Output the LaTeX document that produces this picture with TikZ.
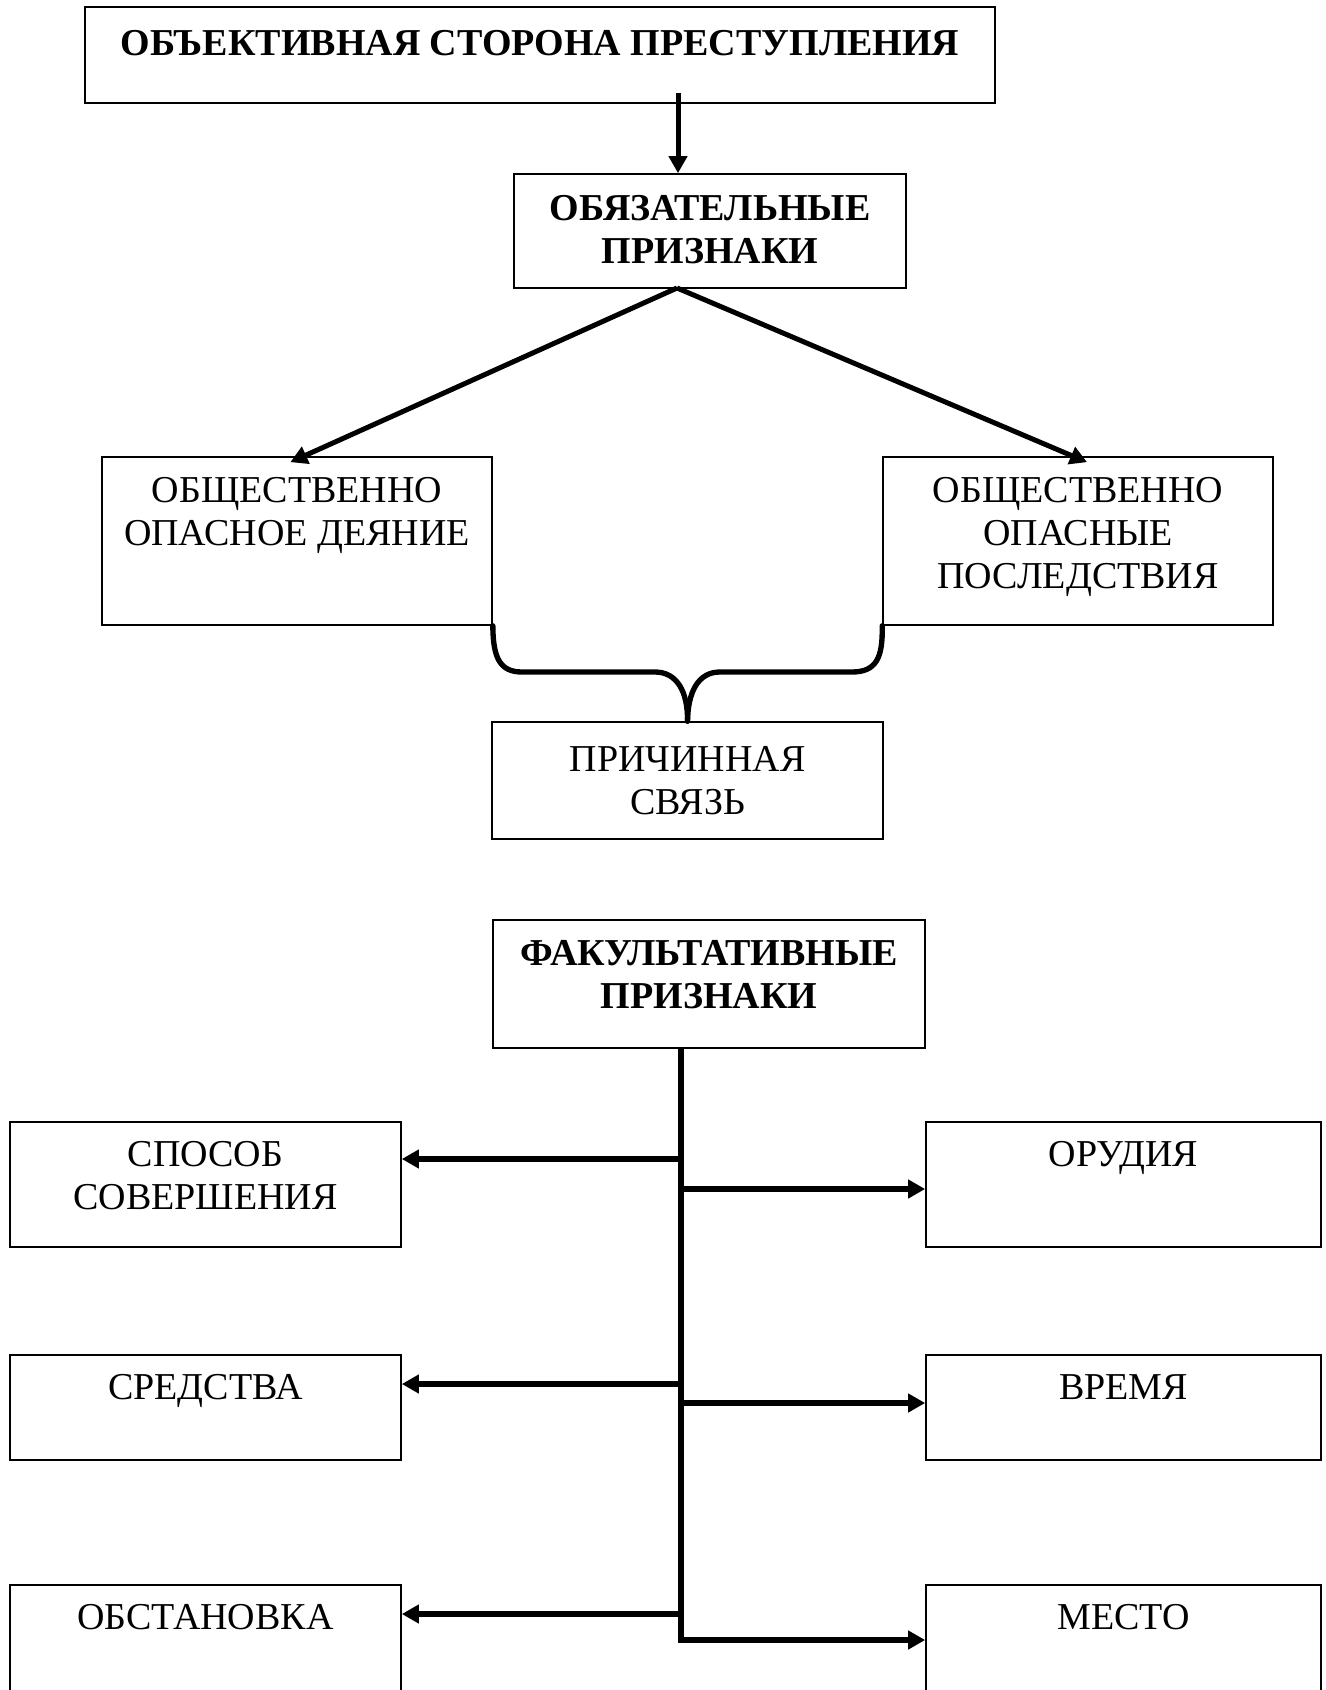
\documentclass[tikz,border=0pt]{standalone}
\usepackage{fontspec}
\setmainfont{Liberation Serif}
\usetikzlibrary{positioning,arrows.meta}

\tikzset{every picture/.style={line width=0.75pt}}
\tikzset{
	blk/.style={draw, line width=1.25pt, inner sep=0pt},
	txt/.style={inner sep=0pt, align=center, font=\fontsize{28.5}{32.25}\selectfont},
	btxt/.style={txt, font=\fontsize{28.5}{32.25}\selectfont\bfseries},
	arr/.style={line width=3.75pt, -{Triangle[length=12.75pt,width=13.5pt]}},
	arrb/.style={arr, line width=5pt},
	brace/.style={line width=4pt, line cap=round, line join=round},
}

\begin{document}
\begin{tikzpicture}[x=0.75pt,y=0.75pt,yscale=-1,xscale=1]
		\useasboundingbox (0,0) rectangle (1326,1690);
		\clip (0,0) rectangle (1326,1690);
		
		%Shape: Rectangle [id:storona] 
		\node[blk, minimum width=682.5pt, minimum height=72pt] (storona) at (540,55) {};
		%Shape: Rectangle [id:obyaz] 
		\node[blk, minimum width=294pt, minimum height=85.5pt] (obyaz) at (710,231) {};
		%Shape: Rectangle [id:deyanie] 
		\node[blk, minimum width=292.5pt, minimum height=126pt] (deyanie) at (297,541) {};
		%Shape: Rectangle [id:posl] 
		\node[blk, minimum width=292.5pt, minimum height=126pt] (posl) at (1078,541) {};
		%Shape: Rectangle [id:prichina] 
		\node[blk, minimum width=293.25pt, minimum height=87.75pt] (prichina) at (687.5,780.5) {};
		%Shape: Rectangle [id:fakult] 
		\node[blk, minimum width=324pt, minimum height=96pt] (fakult) at (709,984) {};
		%Shape: Rectangle [id:sposob] 
		\node[blk, minimum width=293.25pt, minimum height=93.75pt] (sposob) at (205.5,1184.5) {};
		%Shape: Rectangle [id:orudiya] 
		\node[blk, minimum width=296.25pt, minimum height=93.75pt] (orudiya) at (1123.5,1184.5) {};
		%Shape: Rectangle [id:sredstva] 
		\node[blk, minimum width=293.25pt, minimum height=78.75pt] (sredstva) at (205.5,1407.5) {};
		%Shape: Rectangle [id:vremya] 
		\node[blk, minimum width=296.25pt, minimum height=78.75pt] (vremya) at (1123.5,1407.5) {};
		%Shape: Rectangle [id:obstanovka] 
		\node[blk, minimum width=293.25pt, minimum height=101.25pt] (obstanovka) at (205.5,1652.5) {};
		%Shape: Rectangle [id:mesto] 
		\node[blk, minimum width=296.25pt, minimum height=101.25pt] (mesto) at (1123.5,1652.5) {};
		
		%Straight Lines [id:top] 
		\coordinate (s0) at (678,93);
		\draw[arr] (s0) -- (obyaz.north -| s0);
		%Straight Lines [id:left] 
		\coordinate (o1) at (677,288);
		\draw[arr] (o1) -- ([xshift=-5pt,yshift=4.5pt]deyanie.north);
		%Straight Lines [id:right] 
		\draw[arr] (o1) -- ([xshift=6.75pt,yshift=4.5pt]posl.north);
		%Curve Lines [id:brace] 
		\draw[brace] (deyanie.south east) .. controls (493,658) and (500,672) .. (522,672) -- (655,672) .. controls (677,672) and (688,692) .. (prichina.north);
		\draw[brace] (posl.south west) .. controls (883,658) and (876,672) .. (852,672) -- (720,672) .. controls (698,672) and (688,692) .. (prichina.north);
		
		%Straight Lines [id:trunk] 
		\coordinate (t0) at (681,1048);
		\coordinate (t1) at (681,1640);
		\draw[arrb] (t0) -- (t1) -- (t1 -| mesto.west);
		%Straight Lines [id:branches] 
		\coordinate (b1) at (681,1159);
		\coordinate (b2) at (681,1189);
		\coordinate (b3) at (681,1384);
		\coordinate (b4) at (681,1403);
		\coordinate (b5) at (681,1614);
		\draw[arrb] (b1) -- (b1 -| sposob.east);
		\draw[arrb] (b2) -- (b2 -| orudiya.west);
		\draw[arrb] (b3) -- (b3 -| sredstva.east);
		\draw[arrb] (b4) -- (b4 -| vremya.west);
		\draw[arrb] (b5) -- (b5 -| obstanovka.east);
		
		% Text Node
		\node[btxt, below=18pt of storona.north] (storona-t) {ОБЪЕКТИВНАЯ СТОРОНА ПРЕСТУПЛЕНИЯ};
		% Text Node
		\node[btxt, below=16.5pt of obyaz.north] (obyaz-t) {ОБЯЗАТЕЛЬНЫЕ\\ПРИЗНАКИ};
		% Text Node
		\node[txt, below=15.75pt of deyanie.north] (deyanie-t) {ОБЩЕСТВЕННО\\ОПАСНОЕ ДЕЯНИЕ};
		% Text Node
		\node[txt, below=15.75pt of posl.north] (posl-t) {ОБЩЕСТВЕННО\\ОПАСНЫЕ\\ПОСЛЕДСТВИЯ};
		% Text Node
		\node[txt, below=18.75pt of prichina.north] (prichina-t) {ПРИЧИННАЯ\\СВЯЗЬ};
		% Text Node
		\node[btxt, below=15.75pt of fakult.north] (fakult-t) {ФАКУЛЬТАТИВНЫЕ\\ПРИЗНАКИ};
		% Text Node
		\node[txt, below=15pt of sposob.north] (sposob-t) {СПОСОБ\\СОВЕРШЕНИЯ};
		% Text Node
		\node[txt, below=15pt of orudiya.north] (orudiya-t) {ОРУДИЯ};
		% Text Node
		\node[txt, below=15pt of sredstva.north] (sredstva-t) {СРЕДСТВА};
		% Text Node
		\node[txt, below=15pt of vremya.north] (vremya-t) {ВРЕМЯ};
		% Text Node
		\node[txt, below=15pt of obstanovka.north] (obstanovka-t) {ОБСТАНОВКА};
		% Text Node
		\node[txt, below=15pt of mesto.north] (mesto-t) {МЕСТО};
		
\end{tikzpicture}
\end{document}
